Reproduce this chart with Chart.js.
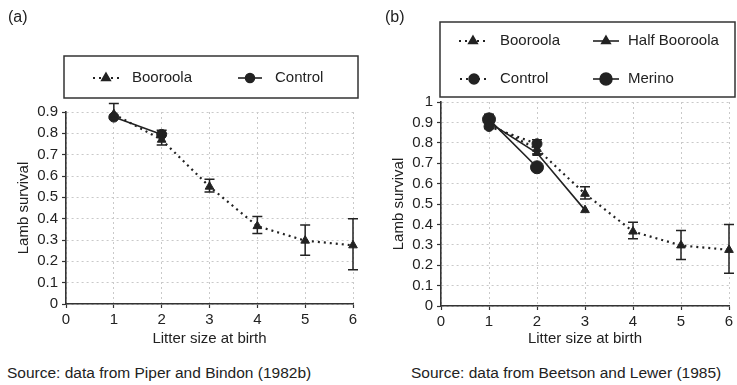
<!DOCTYPE html>
<html>
<head>
<meta charset="utf-8">
<script src="https://cdn.jsdelivr.net/npm/chart.js@4/dist/chart.umd.min.js"></script>
<style>
  html, body { margin: 0; padding: 0; background: #fff; }
  body { width: 737px; height: 385px; position: relative; overflow: hidden;
         font-family: "Liberation Sans", Arial, sans-serif; color: #222; }
  .panel { position: absolute; top: 0; height: 350px; }
  #wrapA { left: 0; width: 372px; }
  #wrapB { left: 372px; width: 365px; }
  .tag { position: absolute; top: 8px; font-size: 16px; }
  .src { position: absolute; top: 364px; font-size: 15.5px; white-space: nowrap; }
</style>
</head>
<body>
<div class="panel" id="wrapA"><canvas id="chartA" width="372" height="350"></canvas></div>
<div class="panel" id="wrapB"><canvas id="chartB" width="365" height="350"></canvas></div>
<div class="tag" style="left:8px">(a)</div>
<div class="tag" style="left:385px">(b)</div>
<div class="src" style="left:7px">Source: data from Piper and Bindon (1982b)</div>
<div class="src" style="left:411px">Source: data from Beetson and Lewer (1985)</div>

<script>
// Litter size (lambs born per ewe)
const litterSizes = [1, 2, 3, 4, 5, 6];

// Booroola survival with error limits (same flock in both panels)
const booroolaSurvival = [0.89, 0.77, 0.55, 0.365, 0.297, 0.275];
const booroolaLow      = [0.87, 0.745, 0.525, 0.33, 0.228, 0.16];
const booroolaHigh     = [0.94, 0.815, 0.585, 0.41, 0.37, 0.40];

// Panel (a) control flock
const controlSurvivalA = [0.876, 0.795];

// Panel (b) comparison flocks
const controlSurvivalB = [0.88, 0.795];
const halfBooroolaSurvival = [0.90, 0.75, 0.47];
const merinoSurvival = [0.915, 0.68];

// Axis tick labels
const xTickLabels = ['0', '1', '2', '3', '4', '5', '6'];
const yTickLabelsA = ['0', '0.1', '0.2', '0.3', '0.4', '0.5', '0.6', '0.7', '0.8', '0.9'];
const yTickLabelsB = ['0', '0.1', '0.2', '0.3', '0.4', '0.5', '0.6', '0.7', '0.8', '0.9', '1'];

const INK = '#222';
const AXIS = '#333';
const GRID = '#c9c9c9';
const FONT = '"Liberation Sans", Arial, sans-serif';

const toPoints = (vals) => vals.map((v, i) => ({ x: litterSizes[i], y: v }));

// Vertical error bars with caps, drawn from the dataset's errLow / errHigh arrays
const errorBarPlugin = {
  id: 'errorBars',
  afterDatasetsDraw(chart) {
    const { ctx, scales: { x, y } } = chart;
    chart.data.datasets.forEach(ds => {
      if (!ds.errLow) return;
      ctx.save();
      ctx.strokeStyle = INK;
      ctx.lineWidth = 1.5;
      ds.data.forEach((p, i) => {
        const px = x.getPixelForValue(p.x);
        const lo = y.getPixelForValue(ds.errLow[i]);
        const hi = y.getPixelForValue(ds.errHigh[i]);
        ctx.beginPath();
        ctx.moveTo(px, lo); ctx.lineTo(px, hi);
        ctx.moveTo(px - 5, lo); ctx.lineTo(px + 5, lo);
        ctx.moveTo(px - 5, hi); ctx.lineTo(px + 5, hi);
        ctx.stroke();
      });
      ctx.restore();
    });
  }
};

// Boxed legend with entries placed in a fixed grid
const boxedLegendPlugin = {
  id: 'boxedLegend',
  afterDraw(chart, args, opts) {
    const ctx = chart.ctx;
    const b = opts.box;
    ctx.save();
    ctx.strokeStyle = AXIS;
    ctx.lineWidth = 1.5;
    ctx.strokeRect(b.x, b.y, b.w, b.h);
    opts.items.forEach(it => {
      const ds = chart.data.datasets[it.dataset];
      ctx.save();
      ctx.strokeStyle = ds.borderColor;
      ctx.lineWidth = ds.borderWidth;
      ctx.setLineDash(ds.borderDash || []);
      ctx.beginPath();
      ctx.moveTo(it.x - it.half, it.y);
      ctx.lineTo(it.x + it.half, it.y);
      ctx.stroke();
      ctx.restore();
      ctx.fillStyle = INK;
      ctx.strokeStyle = INK;
      Chart.helpers.drawPoint(ctx, {
        pointStyle: ds.pointStyle, radius: it.r, rotation: 0, borderWidth: 1
      }, it.x, it.y);
      ctx.fillStyle = INK;
      ctx.font = '15px ' + FONT;
      ctx.textBaseline = 'middle';
      ctx.textAlign = 'left';
      ctx.fillText(ds.label, it.tx, it.y);
    });
    ctx.restore();
  }
};

function lineSet(label, values, style, extra) {
  const base = {
    label,
    data: toPoints(values),
    borderColor: INK,
    backgroundColor: INK,
    pointBackgroundColor: INK,
    pointBorderColor: INK,
    pointBorderWidth: 1,
    borderWidth: style === 'dotted' ? 2.2 : 1.6,
    borderDash: style === 'dotted' ? [2, 4] : [],
    pointStyle: 'triangle',
    pointRadius: 5,
    tension: 0,
    clip: false
  };
  return Object.assign(base, extra || {});
}

function makeOptions(yMax, yLabels, pad, yTitlePad, xBoxHeight, yBoxWidth) {
  return {
    responsive: false,
    animation: false,
    layout: { padding: pad },
    plugins: {
      legend: { display: false },
      tooltip: { enabled: false }
    },
    scales: {
      x: {
        type: 'linear',
        min: 0, max: 6,
        afterFit: (s) => { s.height = xBoxHeight; },
        ticks: {
          stepSize: 1,
          autoSkip: false,
          color: INK,
          font: { family: FONT, size: 15 },
          padding: 3,
          maxRotation: 0,
          callback: (v) => xTickLabels[Math.round(v)]
        },
        grid: {
          color: GRID, lineWidth: 1,
          tickLength: 4, tickColor: AXIS, tickWidth: 1.2
        },
        border: { display: true, color: AXIS, width: 1.6, dash: [2, 3] },
        title: {
          display: true, text: 'Litter size at birth',
          color: INK, font: { family: FONT, size: 15 },
          padding: { top: 2, bottom: 2 }
        }
      },
      y: {
        type: 'linear',
        min: 0, max: yMax,
        afterFit: (s) => { s.width = yBoxWidth; },
        ticks: {
          stepSize: 0.1,
          autoSkip: false,
          color: INK,
          font: { family: FONT, size: 15 },
          padding: 4,
          callback: (v) => yLabels[Math.round(v * 10)]
        },
        grid: {
          color: GRID, lineWidth: 1,
          tickLength: 4, tickColor: AXIS, tickWidth: 1.2
        },
        border: { display: true, color: AXIS, width: 1.6, dash: [2, 3] },
        title: {
          display: true, text: 'Lamb survival',
          color: INK, font: { family: FONT, size: 15 },
          padding: { top: yTitlePad, bottom: 0 }
        }
      }
    }
  };
}

// Panel (a): Piper and Bindon
const optsA = makeOptions(0.9, yTickLabelsA, { top: 112, right: 19, left: 0, bottom: 0 }, 15, 46, 66);
optsA.plugins.boxedLegend = {
  box: { x: 64, y: 56, w: 294, h: 42 },
  items: [
    { dataset: 0, x: 106, y: 78, half: 13, r: 5, tx: 132 },
    { dataset: 1, x: 250, y: 78, half: 12, r: 4.5, tx: 275 }
  ]
};
new Chart(document.getElementById('chartA'), {
  type: 'line',
  data: {
    datasets: [
      lineSet('Booroola', booroolaSurvival, 'dotted', { errLow: booroolaLow, errHigh: booroolaHigh }),
      lineSet('Control', controlSurvivalA, 'solid', { pointStyle: 'circle', pointRadius: 5 })
    ]
  },
  options: optsA,
  plugins: [errorBarPlugin, boxedLegendPlugin]
});

// Panel (b): Beetson and Lewer
const optsB = makeOptions(1, yTickLabelsB, { top: 102, right: 8, left: 0, bottom: 0 }, 18, 44, 69);
optsB.plugins.boxedLegend = {
  box: { x: 68, y: 22, w: 295, h: 75 },
  items: [
    { dataset: 0, x: 101, y: 41, half: 14, r: 5, tx: 128 },
    { dataset: 1, x: 234, y: 41, half: 13, r: 5, tx: 256 },
    { dataset: 2, x: 102, y: 79, half: 14, r: 5, tx: 128 },
    { dataset: 3, x: 234, y: 79, half: 13, r: 6, tx: 256 }
  ]
};
new Chart(document.getElementById('chartB'), {
  type: 'line',
  data: {
    datasets: [
      lineSet('Booroola', booroolaSurvival, 'dotted', { errLow: booroolaLow, errHigh: booroolaHigh }),
      lineSet('Half Booroola', halfBooroolaSurvival, 'solid'),
      lineSet('Control', controlSurvivalB, 'dotted', { pointStyle: 'circle', pointRadius: 5 }),
      lineSet('Merino', merinoSurvival, 'solid', { pointStyle: 'circle', pointRadius: 6.5 })
    ]
  },
  options: optsB,
  plugins: [errorBarPlugin, boxedLegendPlugin]
});
</script>
</body>
</html>
